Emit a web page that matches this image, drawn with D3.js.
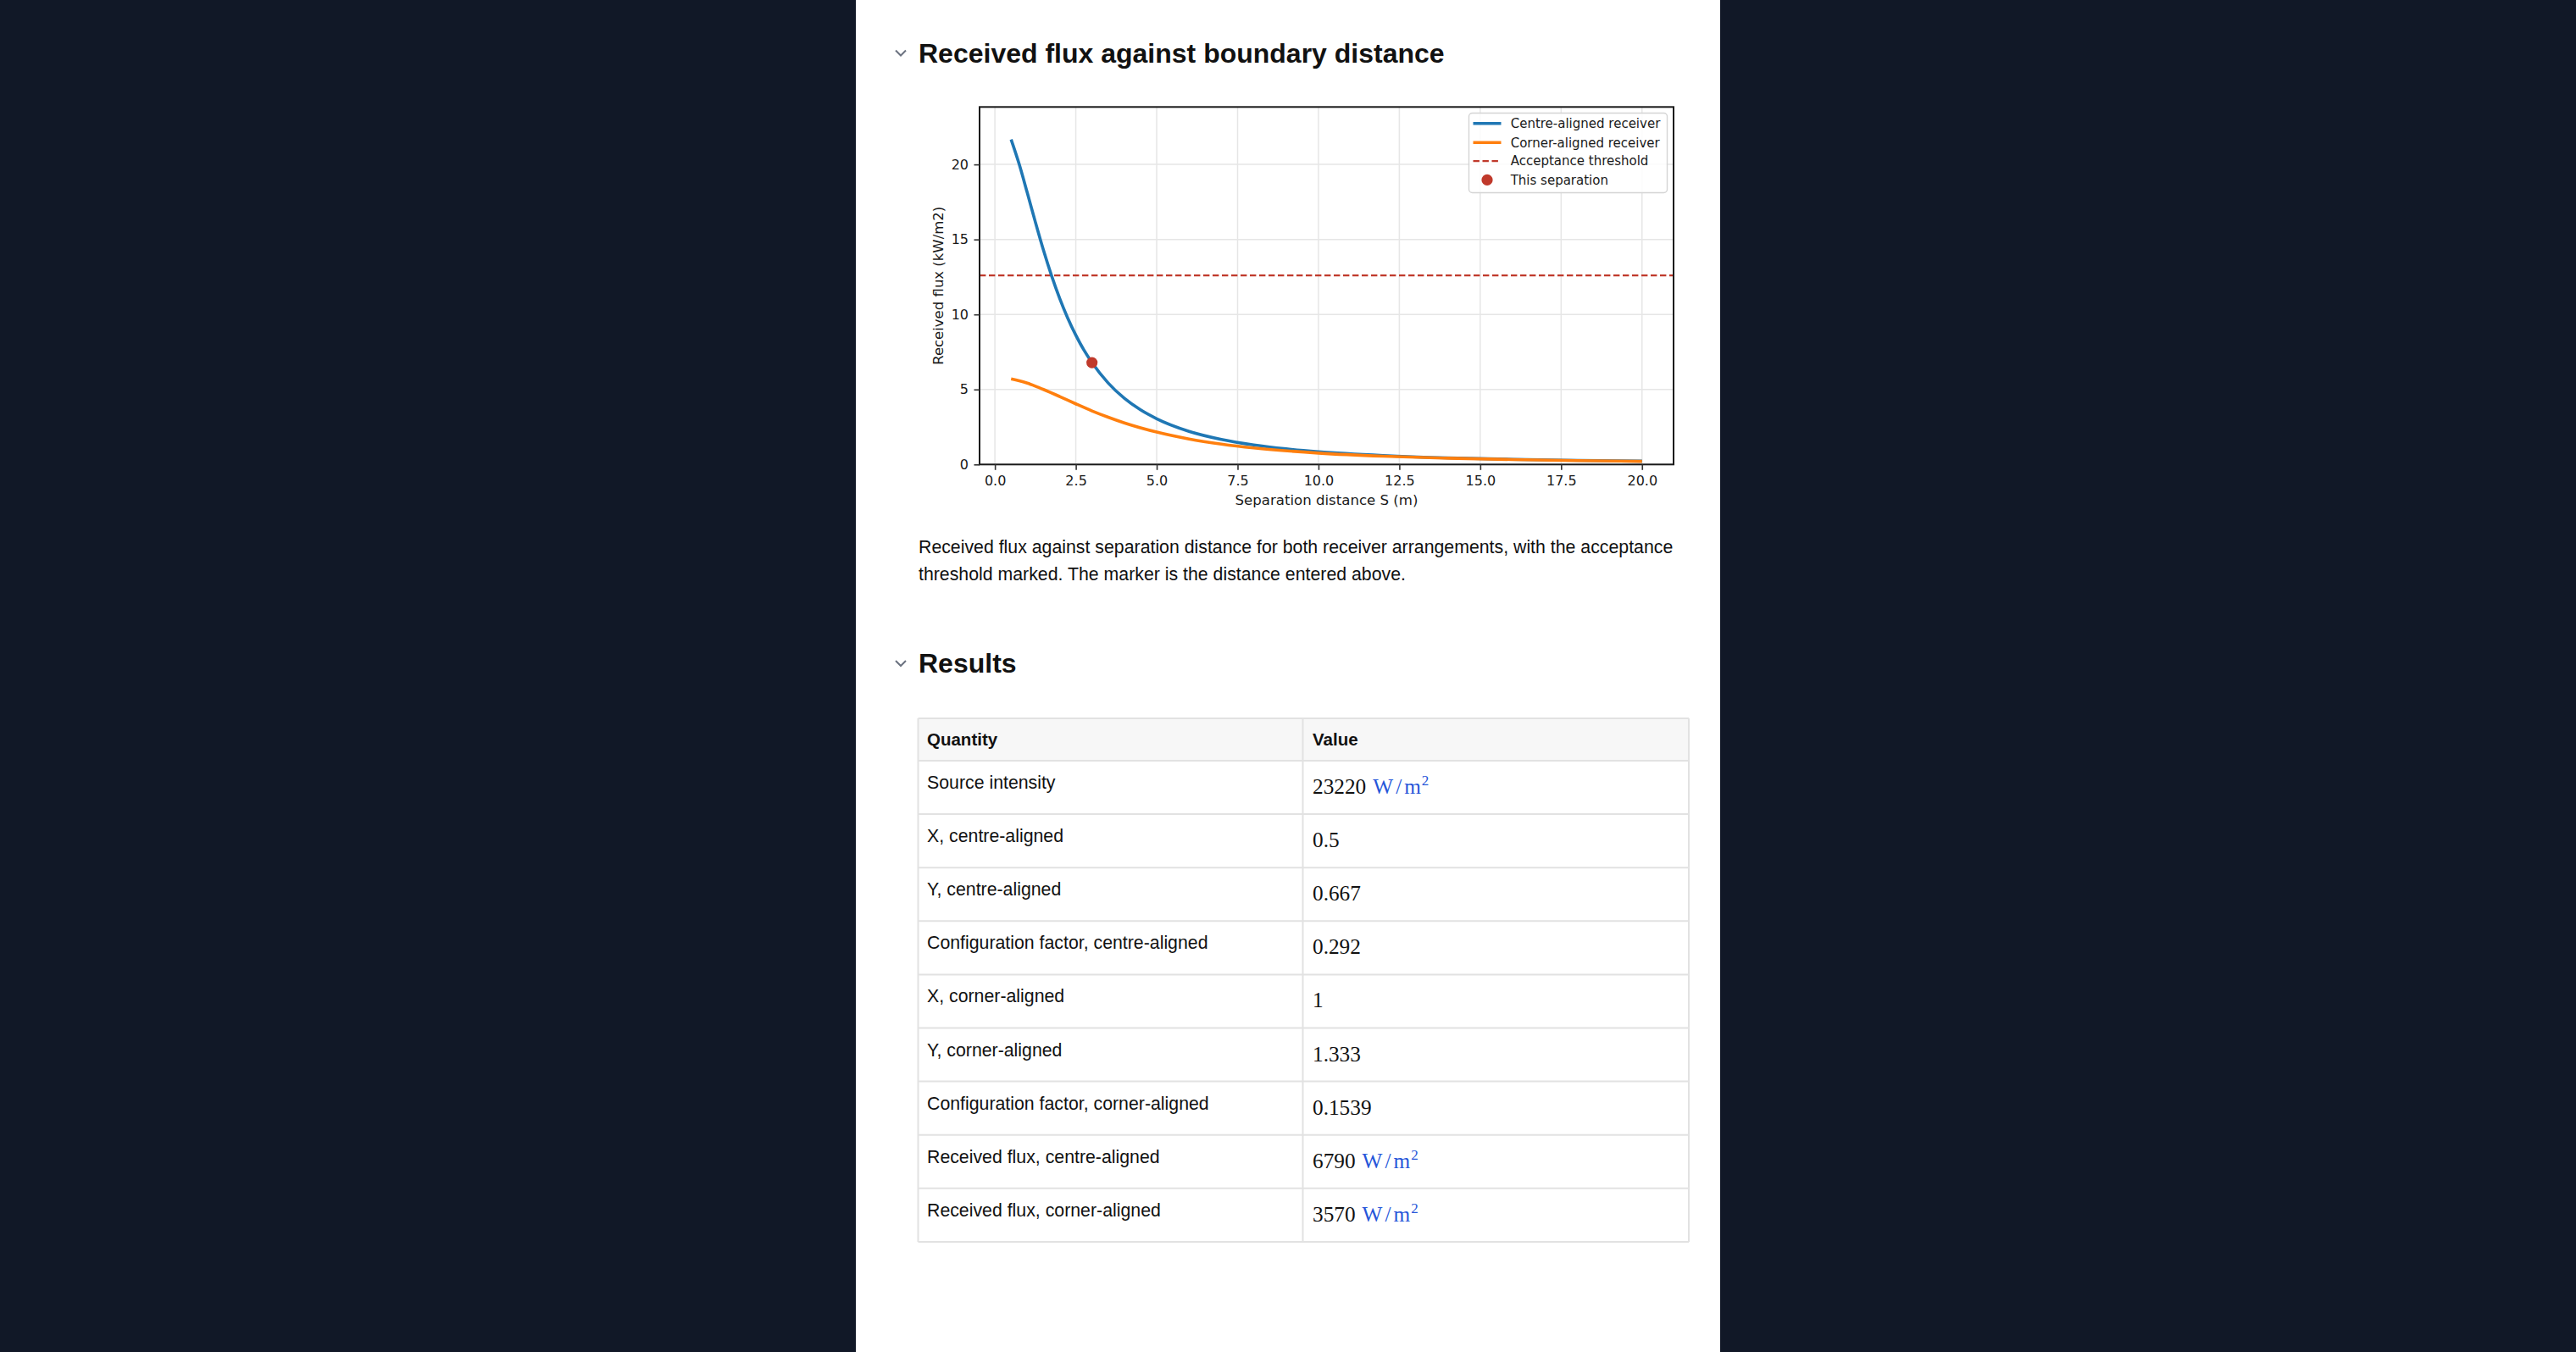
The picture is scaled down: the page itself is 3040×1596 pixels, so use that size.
<!DOCTYPE html>
<html>
<head>
<meta charset="utf-8">
<script src="https://cdn.jsdelivr.net/npm/d3@7"></script>
<style>
  body { margin: 0; background: #111827; }
  svg { display: block; }
</style>
</head>
<body>
<script>
// values
const centreSeparation = [0.5, 0.75, 1, 1.25, 1.5, 1.75, 2, 2.25, 2.5, 2.75, 3, 3.5, 4, 4.5, 5, 6, 7, 8, 9, 10, 12, 14, 16, 18, 20];
const centreFlux = [21.67, 20.02, 18.11, 16.16, 14.29, 12.59, 11.08, 9.76, 8.62, 7.63, 6.79, 5.43, 4.41, 3.64, 3.05, 2.21, 1.67, 1.30, 1.04, 0.85, 0.60, 0.44, 0.34, 0.27, 0.22];
const cornerSeparation = [0.5, 0.75, 1, 1.25, 1.5, 2, 2.5, 3, 3.5, 4, 5, 6, 7, 8, 10, 12, 14, 16, 18, 20];
const cornerFlux = [5.70, 5.58, 5.42, 5.22, 5.00, 4.53, 4.04, 3.57, 3.15, 2.77, 2.16, 1.70, 1.36, 1.10, 0.76, 0.55, 0.42, 0.33, 0.26, 0.21];
const thresholdFlux = 12.6;
const markerSeparation = 3;
const markerFlux = 6.79;

const xTicks = [0, 2.5, 5, 7.5, 10, 12.5, 15, 17.5, 20];
const yTicks = [0, 5, 10, 15, 20];
const legendLabels = ['Centre-aligned receiver', 'Corner-aligned receiver', 'Acceptance threshold', 'This separation'];

const quantities = ['Source intensity', 'X, centre-aligned', 'Y, centre-aligned', 'Configuration factor, centre-aligned',
  'X, corner-aligned', 'Y, corner-aligned', 'Configuration factor, corner-aligned',
  'Received flux, centre-aligned', 'Received flux, corner-aligned'];
const values = ['23220', '0.5', '0.667', '0.292', '1', '1.333', '0.1539', '6790', '3570'];
const hasUnit = [true, false, false, false, false, false, false, true, true];

const width = 3040;
const height = 1596;
const blue = '#1f77b4', orange = '#ff7f0e', red = '#c0392b';
const sans = '"Liberation Sans", Arial, Helvetica, sans-serif';
const mpl = '"DejaVu Sans", sans-serif';
const ink = '#1a1a1a';

const svg = d3.select('body')
    .append('svg')
    .attr('width', width)
    .attr('height', height);

svg.append('rect').attr('width', width).attr('height', height).attr('fill', '#111827');
svg.append('rect').attr('x', 1010).attr('width', 1020).attr('height', height).attr('fill', '#ffffff');

// section headings
function heading(y, label) {
    svg.append('polyline')
        .attr('points', `1057,${y - 14} 1063,${y - 8} 1069,${y - 14}`)
        .attr('fill', 'none')
        .attr('stroke', '#6b7280')
        .attr('stroke-width', 2);
    svg.append('text')
        .attr('x', 1084)
        .attr('y', y)
        .attr('font-family', sans)
        .attr('font-weight', 700)
        .attr('font-size', 32)
        .attr('fill', '#111111')
        .text(label);
}
heading(73.5, 'Received flux against boundary distance');
heading(794, 'Results');

// chart
const plot = { left: 1156, right: 1975, top: 126.3, bottom: 548.3 };

const xScale = d3.scaleLinear()
    .domain([-0.475, 20.975])
    .range([plot.left, plot.right]);

const yScale = d3.scaleLinear()
    .domain([0, 23.83])
    .range([plot.bottom, plot.top]);

const chart = svg.append('g');

// grid
chart.selectAll('.vgrid')
    .data(xTicks)
    .enter()
    .append('line')
    .attr('x1', d => xScale(d)).attr('x2', d => xScale(d))
    .attr('y1', plot.top).attr('y2', plot.bottom)
    .attr('stroke', '#e6e6e6').attr('stroke-width', 1.5);

chart.selectAll('.hgrid')
    .data(yTicks)
    .enter()
    .append('line')
    .attr('x1', plot.left).attr('x2', plot.right)
    .attr('y1', d => yScale(d)).attr('y2', d => yScale(d))
    .attr('stroke', '#e6e6e6').attr('stroke-width', 1.5);

const line = d3.line()
    .x(d => xScale(d[0]))
    .y(d => yScale(d[1]))
    .curve(d3.curveMonotoneX);

// threshold
chart.append('line')
    .attr('x1', plot.left).attr('x2', plot.right)
    .attr('y1', yScale(thresholdFlux)).attr('y2', yScale(thresholdFlux))
    .attr('stroke', red).attr('stroke-width', 2.2)
    .attr('stroke-dasharray', '7.4 3.6');

chart.append('path')
    .attr('d', line(centreSeparation.map((s, i) => [s, centreFlux[i]])))
    .attr('fill', 'none').attr('stroke', blue).attr('stroke-width', 3.6);

chart.append('path')
    .attr('d', line(cornerSeparation.map((s, i) => [s, cornerFlux[i]])))
    .attr('fill', 'none').attr('stroke', orange).attr('stroke-width', 3.6);

chart.append('circle')
    .attr('cx', xScale(markerSeparation))
    .attr('cy', yScale(markerFlux))
    .attr('r', 6.6)
    .attr('fill', red);

// frame
chart.append('rect')
    .attr('x', plot.left).attr('y', plot.top)
    .attr('width', plot.right - plot.left).attr('height', plot.bottom - plot.top)
    .attr('fill', 'none').attr('stroke', ink).attr('stroke-width', 2);

// axes
const xAxis = chart.append('g')
    .attr('transform', `translate(0,${plot.bottom})`)
    .call(d3.axisBottom(xScale).tickValues(xTicks).tickFormat(d3.format('.1f')).tickSize(6.5).tickPadding(7));

const yAxis = chart.append('g')
    .attr('transform', `translate(${plot.left},0)`)
    .call(d3.axisLeft(yScale).tickValues(yTicks).tickFormat(d3.format('d')).tickSize(6.5).tickPadding(6.5));

[xAxis, yAxis].forEach(ax => {
    ax.select('.domain').remove();
    ax.selectAll('line').attr('stroke', '#333333').attr('stroke-width', 1.6);
    ax.selectAll('text').attr('font-family', mpl).attr('font-size', 16).attr('fill', ink);
});

chart.append('text')
    .attr('x', (plot.left + plot.right) / 2)
    .attr('y', 596)
    .attr('text-anchor', 'middle')
    .attr('font-family', mpl).attr('font-size', 16.6).attr('fill', ink)
    .text('Separation distance S (m)');

chart.append('text')
    .attr('transform', `translate(1107,${(plot.top + plot.bottom) / 2}) rotate(-90)`)
    .attr('dy', '0.35em')
    .attr('text-anchor', 'middle')
    .attr('font-family', mpl).attr('font-size', 16.5).attr('fill', ink)
    .text('Received flux (kW/m2)');

// legend
const legend = chart.append('g');
legend.append('rect')
    .attr('x', 1733.5).attr('y', 133.5)
    .attr('width', 234).attr('height', 94)
    .attr('rx', 4)
    .attr('fill', 'rgba(255,255,255,0.85)')
    .attr('stroke', '#d4d4d4').attr('stroke-width', 1.4);

const legendY = [145.7, 168.3, 190.2, 212.4];
legend.selectAll('.label')
    .data(legendLabels)
    .enter()
    .append('text')
    .attr('x', 1782.7)
    .attr('y', (d, i) => legendY[i])
    .attr('dy', '0.35em')
    .attr('font-family', mpl).attr('font-size', 15).attr('fill', ink)
    .text(d => d);

legend.append('line').attr('x1', 1738.5).attr('x2', 1771.5)
    .attr('y1', legendY[0]).attr('y2', legendY[0]).attr('stroke', blue).attr('stroke-width', 3.6);
legend.append('line').attr('x1', 1738.5).attr('x2', 1771.5)
    .attr('y1', legendY[1]).attr('y2', legendY[1]).attr('stroke', orange).attr('stroke-width', 3.6);
legend.append('line').attr('x1', 1738.5).attr('x2', 1771.5)
    .attr('y1', legendY[2]).attr('y2', legendY[2]).attr('stroke', red).attr('stroke-width', 2.2)
    .attr('stroke-dasharray', '7.4 3.6');
legend.append('circle').attr('cx', 1755).attr('cy', legendY[3]).attr('r', 6.6).attr('fill', red);

// caption
const caption = svg.append('text')
    .attr('font-family', sans).attr('font-size', 21.3).attr('fill', '#111111');
caption.append('tspan').attr('x', 1084).attr('y', 652.7)
    .text('Received flux against separation distance for both receiver arrangements, with the acceptance');
caption.append('tspan').attr('x', 1084).attr('y', 684.7)
    .text('threshold marked. The marker is the distance entered above.');

// results table
const table = { left: 1083.5, right: 1993, split: 1537.5, top: 848, headerBottom: 898, rowHeight: 63.1 };
const tableG = svg.append('g');

tableG.append('rect')
    .attr('x', table.left).attr('y', table.top)
    .attr('width', table.right - table.left).attr('height', table.headerBottom - table.top)
    .attr('fill', '#f7f7f7');

const rowTops = quantities.map((q, i) => table.headerBottom + i * table.rowHeight);
const tableBottom = table.headerBottom + quantities.length * table.rowHeight;

tableG.selectAll('.hline')
    .data([table.top, table.headerBottom].concat(rowTops.slice(1), [tableBottom]))
    .enter()
    .append('line')
    .attr('x1', table.left).attr('x2', table.right)
    .attr('y1', d => d).attr('y2', d => d)
    .attr('stroke', '#e2e2e2').attr('stroke-width', 2);

tableG.selectAll('.vline')
    .data([table.left, table.split, table.right])
    .enter()
    .append('line')
    .attr('x1', d => d).attr('x2', d => d)
    .attr('y1', table.top).attr('y2', tableBottom)
    .attr('stroke', '#e2e2e2').attr('stroke-width', 2);

tableG.selectAll('.head')
    .data(['Quantity', 'Value'])
    .enter()
    .append('text')
    .attr('x', (d, i) => i === 0 ? 1094 : 1549)
    .attr('y', 880)
    .attr('font-family', sans).attr('font-weight', 700).attr('font-size', 20.5).attr('fill', '#111111')
    .text(d => d);

tableG.selectAll('.quantity')
    .data(quantities)
    .enter()
    .append('text')
    .attr('x', 1094)
    .attr('y', (d, i) => rowTops[i] + 33)
    .attr('font-family', sans).attr('font-size', 21.3).attr('fill', '#111111')
    .text(d => d);

const valueText = tableG.selectAll('.value')
    .data(values)
    .enter()
    .append('text')
    .attr('x', 1549)
    .attr('y', (d, i) => rowTops[i] + 39)
    .attr('font-family', '"Liberation Serif", "Times New Roman", serif')
    .attr('font-size', 25.3)
    .attr('fill', '#111111');

valueText.append('tspan').text(d => d);
valueText.filter((d, i) => hasUnit[i])
    .each(function () {
        const t = d3.select(this);
        t.append('tspan').attr('fill', '#2656d9').attr('dx', 8).attr('letter-spacing', 3).text('W/m');
        t.append('tspan').attr('fill', '#2656d9').attr('font-size', 17).attr('dx', -2).attr('dy', -10).text('2');
    });
</script>
</body>
</html>
